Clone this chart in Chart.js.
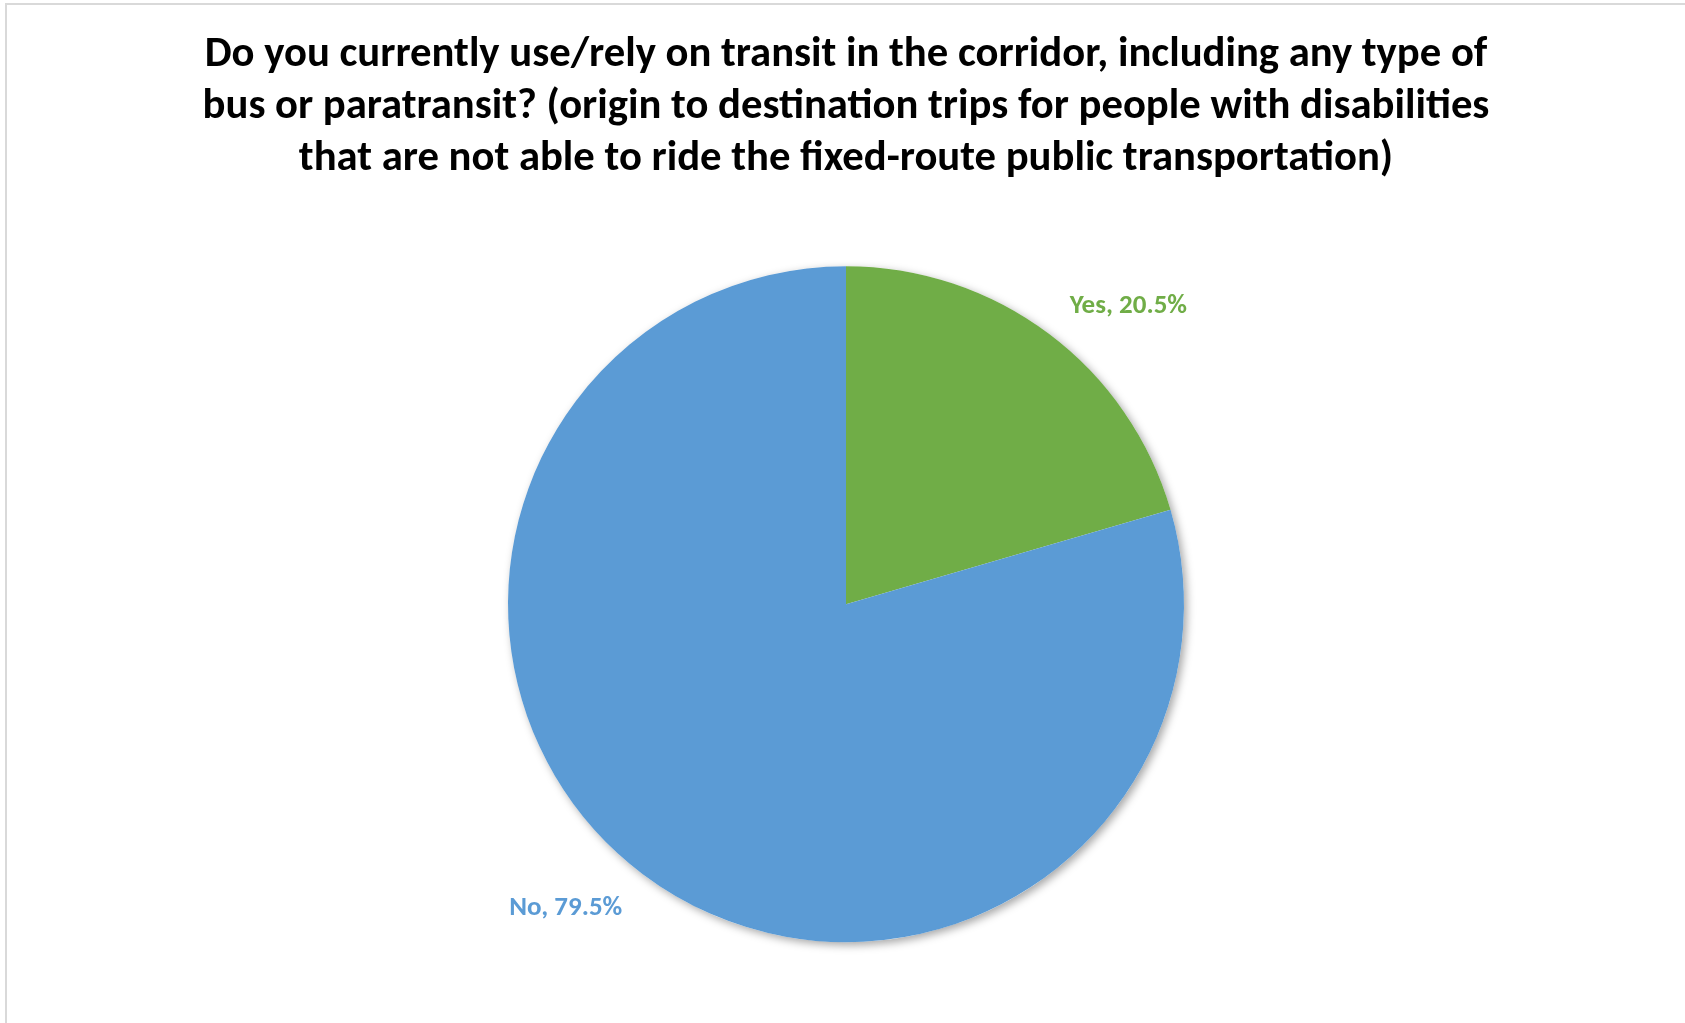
<!DOCTYPE html>
<html>
<head>
<meta charset="utf-8">
<script src="https://cdn.jsdelivr.net/npm/chart.js@4"></script>
<style>
  html, body { margin: 0; padding: 0; background: #fff; }
  #wrap { width: 1685px; height: 1023px; }
</style>
</head>
<body>
<div id="wrap"><canvas id="myChart"></canvas></div>
<script>
const labels = ["Yes", "No"];
const shares = [20.5, 79.5];
const colors = ["#70AD47", "#5B9BD5"];
const titleLines = [
  "Do you currently use/rely on transit in the corridor, including any type of",
  "bus or paratransit? (origin to destination trips for people with disabilities",
  "that are not able to ride the fixed-route public transportation)",
];

const FONT = "Carlito, Calibri, Lato, sans-serif";

// grey frame + soft pie shadow
const framePlugin = {
  id: "frame",
  beforeDraw(chart) {
    const c = chart.ctx;
    c.save();
    c.strokeStyle = "#d9d9d9";
    c.lineWidth = 2;
    c.beginPath();
    c.moveTo(6, chart.height);
    c.lineTo(6, 4);
    c.lineTo(chart.width, 4);
    c.stroke();
    c.restore();
  },
  beforeDatasetsDraw(chart) {
    const arc = chart.getDatasetMeta(0).data[0];
    if (!arc) return;
    const c = chart.ctx;
    c.save();
    c.shadowColor = "rgba(0,0,0,0.35)";
    c.shadowBlur = 9;
    c.shadowOffsetX = 3;
    c.shadowOffsetY = 3;
    c.fillStyle = "#fff";
    c.beginPath();
    c.arc(arc.x, arc.y, arc.outerRadius, 0, Math.PI * 2);
    c.fill();
    c.restore();
  },
};

// outside labels: nearest corner of the text sits just outside the slice middle
const labelPlugin = {
  id: "outLabels",
  afterDatasetsDraw(chart) {
    const c = chart.ctx;
    const meta = chart.getDatasetMeta(0);
    c.save();
    c.font = "bold 27px " + FONT;
    meta.data.forEach((arc, i) => {
      const mid = (arc.startAngle + arc.endAngle) / 2;
      const r = arc.outerRadius + 28;
      const right = Math.cos(mid) >= 0;
      const x = arc.x + Math.cos(mid) * r + (right ? 4 : -4);
      const y = arc.y + Math.sin(mid) * r + (Math.sin(mid) < 0 ? -5 : 11);
      c.fillStyle = colors[i];
      c.textAlign = right ? "left" : "right";
      c.textBaseline = "middle";
      c.fillText(labels[i] + ", " + shares[i].toFixed(1) + "%", x, y);
    });
    c.restore();
  },
};

const ctx = document.getElementById("myChart");

const myChart = new Chart(ctx, {
  type: "pie",
  data: {
    labels: labels,
    datasets: [
      {
        data: shares,
        backgroundColor: colors,
        borderColor: colors,
        borderWidth: 0,
        hoverOffset: 0,
        radius: 338,
      },
    ],
  },
  options: {
    responsive: true,
    maintainAspectRatio: false,
    animation: false,
    layout: { padding: { top: 0, left: 7, right: 0, bottom: 15 } },
    plugins: {
      legend: { display: false },
      tooltip: { enabled: false },
      title: {
        display: true,
        text: titleLines,
        color: "#000",
        font: { family: FONT, size: 42.7, weight: "bold", lineHeight: 1.22 },
        padding: { top: 29, bottom: 15 },
      },
    },
  },
  plugins: [framePlugin, labelPlugin],
});
</script>
</body>
</html>
